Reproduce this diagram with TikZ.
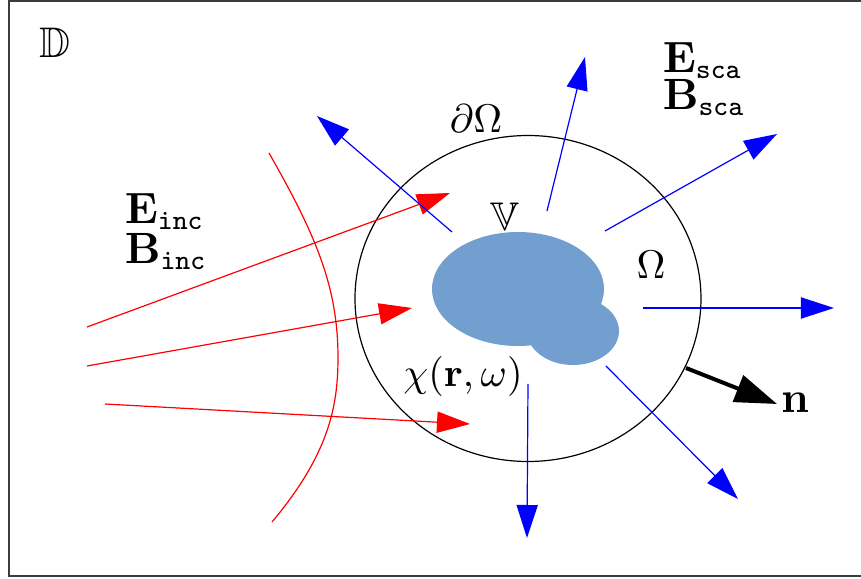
\documentclass[tikz,border=0pt]{standalone}
\usepackage{amssymb}
\usetikzlibrary{arrows.meta}
\definecolor{blobblue}{RGB}{114,159,207}
\definecolor{framegray}{RGB}{60,60,60}
\begin{document}
\begin{tikzpicture}[x=0.25pt,y=-0.25pt,
  lbl/.style={inner sep=0pt, font=\fontsize{10}{12}\selectfont},
  biglbl/.style={inner sep=0pt, font=\fontsize{10.7}{13}\selectfont},
  incray/.style={red, line width=0.3pt, -{Triangle[length=8.25pt,width=5.3pt]}},
  scaray/.style={blue, line width=0.3pt, -{Triangle[length=8.25pt,width=5.3pt]}},
  nvec/.style={black, line width=1pt, -{Triangle[length=10.5pt,width=7pt]}}]
\useasboundingbox (0,0) rectangle (861,579);
% frame
\draw[framegray, line width=0.5pt] (865,1) -- (9,1) -- (9,576) -- (865,576);
% boundary of Omega
\draw[black, line width=0.3pt] (528,298.5) ellipse [x radius=173, y radius=163];
% scatterer
\fill[blobblue] (518,289) ellipse [x radius=86, y radius=57];
\fill[blobblue] (573,331) ellipse [x radius=46, y radius=34];
% incident wavefront
\coordinate (wa) at (269,153); \coordinate (wb) at (338,358); \coordinate (wc) at (272,522);
\draw[red, line width=0.3pt] (wa) .. controls (317,237) and (338,288) .. (wb)
  .. controls (338,408) and (327.8,455.4) .. (wc);
% incident rays
\coordinate (i1s) at (87,327);  \coordinate (i1e) at (450,193);
\coordinate (i2s) at (87,366);  \coordinate (i2e) at (412,308);
\coordinate (i3s) at (105,404); \coordinate (i3e) at (470,424);
\draw[incray] (i1s) -- (i1e);
\draw[incray] (i2s) -- (i2e);
\draw[incray] (i3s) -- (i3e);
% scattered rays
\coordinate (s1s) at (452,232); \coordinate (s1e) at (317,116);
\coordinate (s2s) at (547,211); \coordinate (s2e) at (585,57);
\coordinate (s3s) at (605,231); \coordinate (s3e) at (777,134);
\coordinate (s4s) at (643,308); \coordinate (s4e) at (834,308);
\coordinate (s5s) at (606,366); \coordinate (s5e) at (738,499);
\coordinate (s6s) at (528,384); \coordinate (s6e) at (527,538);
\draw[scaray] (s1s) -- (s1e);
\draw[scaray] (s2s) -- (s2e);
\draw[scaray] (s3s) -- (s3e);
\draw[scaray] (s4s) -- (s4e);
\draw[scaray] (s5s) -- (s5e);
\draw[scaray] (s6s) -- (s6e);
% normal
\coordinate (n0) at (686,368); \coordinate (n1) at (777,404);
\draw[nvec] (n0) -- (n1);
% labels
\node[biglbl, anchor=base west] (D) at (39,57) {$\mathbb{D}$};
\node[lbl, anchor=base] (dOm) at (476,132) {$\partial\Omega$};
\node[lbl, anchor=base] (V) at (505,230) {$\mathbb{V}$};
\node[lbl, anchor=base] (Om) at (651,278) {$\Omega$};
\node[lbl, anchor=base] (chi) at (463,386) {$\chi(\mathbf{r},\omega)$};
\node[biglbl, anchor=base] (n) at (795,412) {$\mathbf{n}$};
\node[biglbl, anchor=base west, align=left, font=\fontsize{10.7}{9.25}\selectfont] (sca) at (662,109) {$\mathbf{E}_{\mathtt{sca}}$\\$\mathbf{B}_{\mathtt{sca}}$};
\node[biglbl, anchor=base west, align=left, font=\fontsize{10.7}{10}\selectfont] (inc) at (124,263) {$\mathbf{E}_{\mathtt{inc}}$\\$\mathbf{B}_{\mathtt{inc}}$};
\end{tikzpicture}
\end{document}
